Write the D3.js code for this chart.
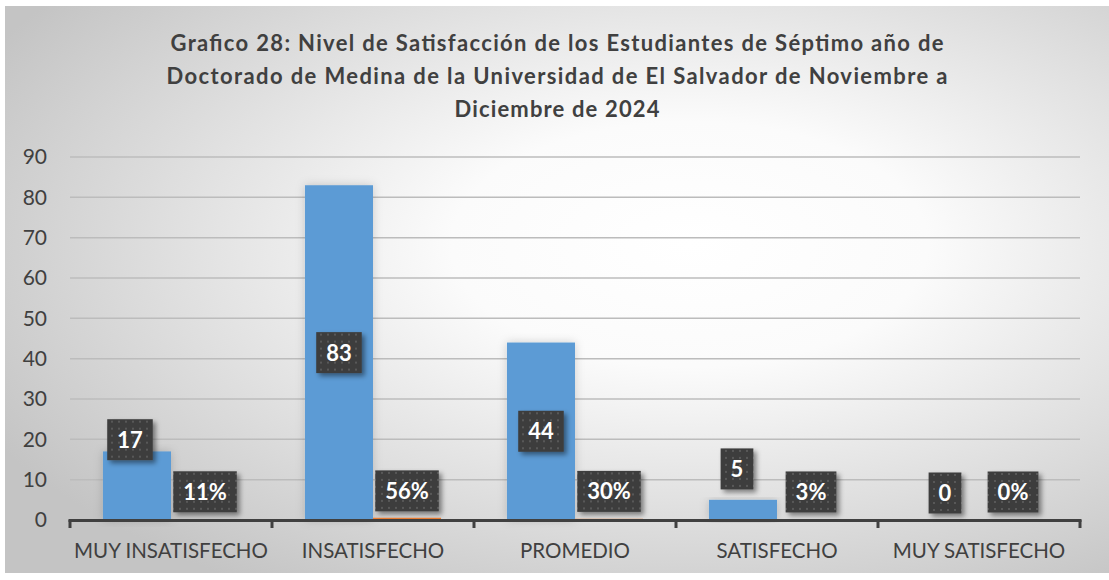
<!DOCTYPE html>
<html>
<head>
<meta charset="utf-8">
<script src="https://cdn.jsdelivr.net/npm/d3@7"></script>
<style>
  body { margin: 0; background: #fff; }
  text { font-family: Lato, "Open Sans", sans-serif; }
</style>
</head>
<body>
<div class="canvas"></div>
<script>
const categories = ["MUY INSATISFECHO", "INSATISFECHO", "PROMEDIO", "SATISFECHO", "MUY SATISFECHO"];
const counts = [17, 83, 44, 5, 0];
const percents = [0.11, 0.56, 0.30, 0.03, 0];
const yTicks = [0, 10, 20, 30, 40, 50, 60, 70, 80, 90];
const titleLines = [
  "Grafico 28: Nivel de Satisfacción de los Estudiantes de Séptimo año de",
  "Doctorado de Medina de la Universidad de El Salvador de Noviembre a",
  "Diciembre de 2024"
];

// title line widths in the original (Calibri is wider than Lato)
const titleWidths = [773, 781, 205];

// label placement tweaks (px), like the hand-moved labels in the original
const countNudge = [[-7, -46], [0, 0], [0, 0], [-6, -41], [0, -27]];
const pctNudge = -28;

const svgWidth = 1109;
const svgHeight = 580;
const margin = { t: 157, r: 29, b: 60, l: 70 };

const svg = d3
  .select(".canvas")
  .append("svg")
  .attr("width", svgWidth)
  .attr("height", svgHeight);

const defs = svg.append("defs");

const bg = defs
  .append("radialGradient")
  .attr("id", "bg")
  .attr("cx", 0.62)
  .attr("cy", 0.42)
  .attr("r", 0.72);
bg.append("stop").attr("offset", 0).attr("stop-color", "#ffffff");
bg.append("stop").attr("offset", 0.3).attr("stop-color", "#fbfbfb");
bg.append("stop").attr("offset", 1).attr("stop-color", "#c4c4c4");

const dots = defs
  .append("pattern")
  .attr("id", "dots")
  .attr("width", 7)
  .attr("height", 7)
  .attr("patternUnits", "userSpaceOnUse");
dots.append("rect").attr("width", 7).attr("height", 7).attr("fill", "#3d3d3d");
dots.append("rect").attr("x", 2).attr("y", 2).attr("width", 2).attr("height", 2).attr("fill", "#585858");

const shadow = defs.append("filter").attr("id", "shadow").attr("x", "-30%").attr("y", "-30%").attr("width", "160%").attr("height", "160%");
shadow.append("feDropShadow")
  .attr("dx", 3).attr("dy", 3).attr("stdDeviation", 2.5)
  .attr("flood-color", "#000").attr("flood-opacity", 0.45);

const halo = defs.append("filter").attr("id", "halo").attr("x", "-30%").attr("y", "-10%").attr("width", "160%").attr("height", "120%");
halo.append("feDropShadow")
  .attr("dx", 0).attr("dy", 0).attr("stdDeviation", 5)
  .attr("flood-color", "#000").attr("flood-opacity", 0.18);

svg.append("rect")
  .attr("x", 5).attr("y", 6)
  .attr("width", svgWidth - 5).attr("height", 567)
  .attr("fill", "url(#bg)");

// title
svg.append("g")
  .selectAll("text")
  .data(titleLines)
  .enter()
  .append("text")
  .attr("x", 557)
  .attr("y", (d, i) => 51 + i * 33)
  .attr("text-anchor", "middle")
  .attr("font-size", 22)
  .attr("font-weight", "bold")
  .attr("fill", "#404040")
  .attr("textLength", (d, i) => titleWidths[i])
  .attr("lengthAdjust", "spacing")
  .text(d => d);

const x0 = d3.scaleBand().domain(categories).range([margin.l, svgWidth - margin.r]);
const x1 = d3.scaleBand().domain(["n", "p"]).range([0, x0.bandwidth()]).paddingOuter(0.485).paddingInner(0);
const y = d3.scaleLinear().domain([0, 90]).range([520, margin.t]);

// grid
svg.append("g")
  .selectAll("line")
  .data(yTicks.filter(d => d > 0))
  .enter()
  .append("line")
  .attr("x1", margin.l)
  .attr("x2", svgWidth - margin.r)
  .attr("y1", d => y(d))
  .attr("y2", d => y(d))
  .attr("stroke", "#bcbcbc")
  .attr("stroke-width", 1.5);

// y labels
svg.append("g")
  .selectAll("text")
  .data(yTicks)
  .enter()
  .append("text")
  .attr("x", 47)
  .attr("y", d => y(d))
  .attr("dy", "0.35em")
  .attr("text-anchor", "end")
  .attr("font-size", 21)
  .attr("fill", "#404040")
  .text(d => d);

const rows = categories.map((c, i) => ({ cat: c, n: counts[i], p: percents[i], i }));

// bars
const bars = svg.append("g");
bars.selectAll(".bar-n")
  .data(rows)
  .enter()
  .append("rect")
  .attr("x", d => x0(d.cat) + x1("n"))
  .attr("y", d => y(d.n))
  .attr("width", x1.bandwidth())
  .attr("height", d => y(0) - y(d.n))
  .attr("fill", "#5b9bd5")
  .attr("filter", "url(#halo)");
bars.selectAll(".bar-p")
  .data(rows)
  .enter()
  .append("rect")
  .attr("x", d => x0(d.cat) + x1("p"))
  .attr("y", d => y(d.p))
  .attr("width", x1.bandwidth())
  .attr("height", d => y(0) - y(d.p))
  .attr("fill", "#ed7d31");

// x axis
const axis = svg.append("g");
axis.append("line")
  .attr("x1", margin.l - 1.5).attr("x2", svgWidth - margin.r + 1.5)
  .attr("y1", y(0) + 0.5).attr("y2", y(0) + 0.5)
  .attr("stroke", "#404040").attr("stroke-width", 3);
axis.selectAll(".tick")
  .data(categories.map(c => x0(c)).concat([svgWidth - margin.r]))
  .enter()
  .append("line")
  .attr("x1", d => d).attr("x2", d => d)
  .attr("y1", y(0)).attr("y2", y(0) + 8)
  .attr("stroke", "#404040").attr("stroke-width", 3);
axis.selectAll(".cat")
  .data(categories)
  .enter()
  .append("text")
  .attr("x", d => x0(d) + x0.bandwidth() / 2)
  .attr("y", 558)
  .attr("text-anchor", "middle")
  .attr("font-size", 20.5)
  .attr("fill", "#404040")
  .text(d => d);

// data labels
const labels = [];
rows.forEach(d => {
  const cx = x0(d.cat) + x1("n") + x1.bandwidth() / 2;
  const mid = (y(d.n) + y(0)) / 2;
  labels.push({ t: String(d.n), x: cx + countNudge[d.i][0], y: mid + countNudge[d.i][1] });
  const px = x0(d.cat) + x1("p") + x1.bandwidth() / 2;
  labels.push({ t: d3.format(".0%")(d.p), x: px, y: (y(d.p) + y(0)) / 2 + pctNudge });
});

const lab = svg.append("g")
  .selectAll("g")
  .data(labels)
  .enter()
  .append("g")
  .attr("transform", d => `translate(${d.x}, ${d.y})`);

lab.append("rect").attr("fill", "url(#dots)").attr("filter", "url(#shadow)");
lab.append("text")
  .attr("text-anchor", "middle")
  .attr("dy", "0.36em")
  .attr("font-size", 22)
  .attr("font-weight", "bold")
  .attr("fill", "#fff")
  .text(d => d.t);

lab.each(function () {
  const g = d3.select(this);
  const w = g.select("text").node().getComputedTextLength() + 20;
  g.select("rect")
    .attr("x", -w / 2).attr("y", -20.5)
    .attr("width", w).attr("height", 41);
});
</script>
</body>
</html>
